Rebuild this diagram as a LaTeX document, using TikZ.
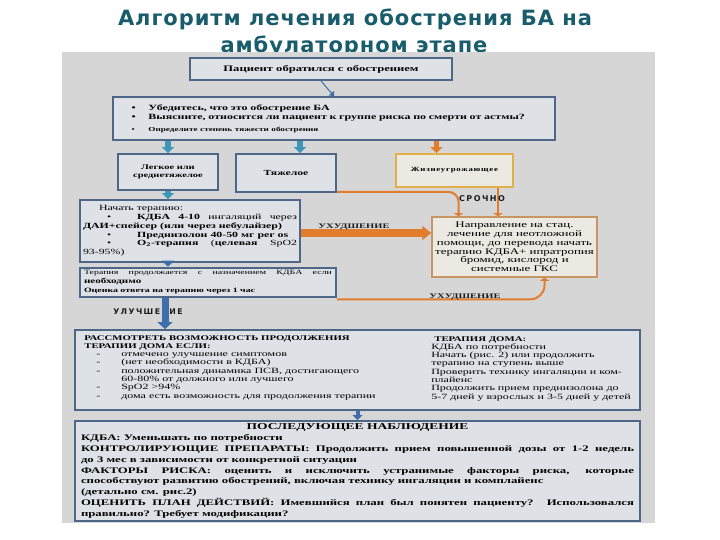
\documentclass[tikz,border=0pt]{standalone}
\usepackage{fontspec}
\setmainfont{Liberation Serif}
\newfontfamily\titlefont[LetterSpace=4.5]{DejaVu Sans}
\newfontfamily\boxfont[FakeStretch=1.5]{Liberation Serif}
\newfontfamily\boxspaced[FakeStretch=1.4,LetterSpace=12]{Liberation Serif}
\newfontfamily\spacedsans[LetterSpace=18]{DejaVu Sans}
\usetikzlibrary{arrows.meta,calc}
\definecolor{titlec}{RGB}{25,92,108}
\definecolor{panelc}{RGB}{214,214,214}
\definecolor{boxfillc}{RGB}{222,226,231}
\definecolor{boxdrawc}{RGB}{78,102,135}
\definecolor{tealc}{RGB}{62,150,185}
\definecolor{bluec}{RGB}{62,110,172}
\definecolor{orangec}{RGB}{226,125,45}
\definecolor{goldc}{RGB}{226,176,72}
\definecolor{tanc}{RGB}{200,150,98}
\definecolor{tanfillc}{RGB}{236,233,226}
\definecolor{labelc}{RGB}{30,30,30}
\tikzset{
  bbox/.style={draw=boxdrawc, line width=1.8pt, fill=boxfillc, inner sep=3pt,
    font=\boxfont\bfseries\fontsize{8.4}{9}\selectfont, align=center},
  titletext/.style={text=titlec, font=\titlefont\bfseries\fontsize{21}{22}\selectfont},
  blockarrow/.style={line width=5.5pt, -{Triangle[width=12pt,length=6pt]}},
  orangeline/.style={draw=orangec, line width=2pt, rounded corners=10pt, -{Triangle[width=9pt,length=3pt]}},
  arrowlabel/.style={text=labelc, font=\boxfont\bfseries\fontsize{7}{8}\selectfont, inner sep=1pt},
}
\begin{document}
\begin{tikzpicture}[x=1pt,y=-1pt]
\useasboundingbox (0,0) rectangle (720,540);
\fill[white] (0,0) rectangle (720,540);
% title
\node[titletext] (t1) at (355,19) {Алгоритм лечения обострения БА на};
\node[titletext] (t2) at (354,46) {амбулаторном этапе};
% panel
\fill[panelc] (62,52) rectangle (655,523);

% boxes
\node[bbox, minimum width=262pt, minimum height=22pt] (p) at (321,69) {Пациент обратился с обострением};

\node[bbox, minimum width=442pt, minimum height=43pt, text width=405pt, align=left, font=\boxfont\bfseries\fontsize{8}{8.8}\selectfont] (b2) at (334,118.5)
 {\makebox[17pt][l]{•}Убедитесь, что это обострение БА\\[0.5pt]
  \makebox[17pt][l]{•}Выясните, относится ли пациент к группе риска по смерти от астмы?\\[3pt]
  {\fontsize{6.1}{7}\selectfont\makebox[17pt][l]{•}Определите степень тяжести обострения}};

\node[bbox, minimum width=100pt, minimum height=36pt, font=\boxfont\bfseries\fontsize{7}{8.2}\selectfont] (legk) at (168,172) {Легкое или\\среднетяжелое};
\node[bbox, minimum width=100pt, minimum height=38pt, font=\boxfont\bfseries\fontsize{7.8}{8.2}\selectfont] (tyazh) at (286,173) {Тяжелое};
\node[bbox, draw=goldc, fill=tanfillc, minimum width=117pt, minimum height=33pt, font=\boxspaced\bfseries\fontsize{6.3}{7}\selectfont] (zhizn) at (454.5,170.5) {Жизнеугрожающее};

\node[bbox, minimum width=220pt, minimum height=62pt, text width=214pt, align=justify, font=\boxfont\fontsize{7.9}{8.7}\selectfont] (nachat) at (190,231)
 {\hspace*{16pt}Начать терапию:\\
  \hspace*{24pt}•\hspace{26pt}\textbf{КДБА 4-10} ингаляций через\linebreak
  \textbf{ДАИ+спейсер (или через небулайзер)}\\
  \hspace*{24pt}•\hspace{26pt}\textbf{Преднизолон 40-50 мг per os}\\
  \hspace*{24pt}•\hspace{26pt}\textbf{O\textsubscript{2}-терапия} (\textbf{целевая} SpO2\linebreak
  93-95\%)};

\node[bbox, draw=tanc, line width=1.5pt, fill=tanfillc, minimum width=165pt, minimum height=60pt, font=\boxfont\fontsize{8.6}{8.8}\selectfont] (naprav) at (514.5,247)
 {Направление на стац.\\ лечение для неотложной\\ помощи, до перевода начать\\ терапию КДБА+ ипратропия\\ бромид, кислород и\\ системные ГКС};

\node[bbox, minimum width=256pt, minimum height=29pt, text width=248pt, align=justify, font=\boxfont\fontsize{6.6}{9}\selectfont] (terap) at (208,282.5)
 {Терапия продолжается с назначением КДБА если\linebreak {\fontsize{7.4}{9}\selectfont\bfseries необходимо}\\
  \textbf{Оценка ответа на терапию через 1 час}};

\node[bbox, minimum width=565pt, minimum height=80pt] (big) at (357.5,370) {};
\node[anchor=north west, inner sep=0pt, align=left, font=\boxfont\fontsize{8}{8.3}\selectfont] (bigL) at ([shift={(10,6)}]big.north west)
 {{\fontsize{7.2}{8.3}\selectfont\bfseries РАССМОТРЕТЬ ВОЗМОЖНОСТЬ ПРОДОЛЖЕНИЯ}\\
  {\fontsize{7.2}{8.3}\selectfont\bfseries ТЕРАПИИ ДОМА ЕСЛИ:}\\
  \hspace*{12pt}\makebox[25pt][l]{-}отмечено улучшение симптомов\\
  \hspace*{12pt}\makebox[25pt][l]{-}(нет необходимости в КДБА)\\
  \hspace*{12pt}\makebox[25pt][l]{-}положительная динамика ПСВ, достигающего\\
  \hspace*{12pt}\makebox[25pt][l]{}60-80\% от должного или лучшего\\
  \hspace*{12pt}\makebox[25pt][l]{-}SpO2 >94\%\\
  \hspace*{12pt}\makebox[25pt][l]{-}дома есть возможность для продолжения терапии};
\node[anchor=north west, inner sep=0pt, align=left, font=\boxfont\fontsize{8}{8.3}\selectfont] (bigR) at ([shift={(357,7)}]big.north west)
 {\hspace*{3pt}{\fontsize{7.2}{8.3}\selectfont\bfseries ТЕРАПИЯ ДОМА:}\\
  КДБА по потребности\\
  Начать (рис. 2) или продолжить\\
  терапию на ступень выше\\
  Проверить технику ингаляции и ком-\\
  плайенс\\
  Продолжить прием преднизолона до\\
  5-7 дней у взрослых и 3-5 дней у детей};

\node[bbox, minimum width=565pt, minimum height=98pt, text width=553pt, align=justify, font=\boxfont\bfseries\fontsize{8.5}{10.8}\selectfont] (last) at (357.5,471)
 {\centerline{\fontsize{9}{10.8}\selectfont ПОСЛЕДУЮЩЕЕ НАБЛЮДЕНИЕ}
  КДБА: Уменьшать по потребности\\
  КОНТРОЛИРУЮЩИЕ ПРЕПАРАТЫ: Продолжить прием повышенной дозы от 1-2 недель\linebreak
  до 3 мес в зависимости от конкретной ситуации\\
  ФАКТОРЫ РИСКА: оценить и исключить устранимые факторы риска, которые\linebreak
  способствуют развитию обострений, включая технику ингаляции и комплайенс\\
  (детально см. рис.2)\\
  ОЦЕНИТЬ ПЛАН ДЕЙСТВИЙ: Имевшийся план был понятен пациенту? Использовался\linebreak
  правильно? Требует модификации?};

% connectors
\draw[bluec, line width=1pt, -{Triangle[width=7pt,length=4pt]}] (p.south) -- (b2.north);
\path ([xshift=14pt]tyazh.north) coordinate (tyin);
\path ([xshift=-18pt]zhizn.north) coordinate (zhin);
\draw[blockarrow, tealc] (legk.north |- b2.south) -- (legk.north);
\draw[blockarrow, tealc] (tyin |- b2.south) -- (tyin);
\draw[blockarrow, orangec] (zhin |- b2.south) -- (zhin);
\draw[blockarrow, tealc] (legk.south) -- (legk.south |- nachat.north);
\draw[blockarrow, bluec] (legk.south |- nachat.south) -- (legk.south |- terap.north);

\draw[blockarrow, orangec, line width=7pt, -{Triangle[width=14pt,length=9pt]}] ([yshift=-2pt]nachat.east) -- ([yshift=-2pt]nachat.east -| naprav.west);
\node[arrowlabel] (uh1) at (354,227) {УХУДШЕНИЕ};

\path ([xshift=-56pt]naprav.north) coordinate (nin1);
\path ([xshift=-16.5pt]naprav.north) coordinate (nin2);
\path ([xshift=30pt]naprav.south) coordinate (nin3);
\draw[orangeline] ([yshift=1pt]tyazh.south east) -| (nin1);
\draw[orangeline] (nin2 |- zhizn.south) -- (nin2);
\draw[orangeline, rounded corners=14pt] ([yshift=-1pt]terap.south east) -| (nin3);
\node[text=labelc, font=\spacedsans\bfseries\fontsize{8}{9}\selectfont] (sr) at (482,199) {СРОЧНО};
\node[arrowlabel] (uh2) at (465,297) {УХУДШЕНИЕ};

\node[text=labelc, font=\spacedsans\bfseries\fontsize{7.8}{8}\selectfont, inner sep=0pt] (ul) at (148,312) {УЛУЧШЕНИЕ};
\draw[blockarrow, bluec, line width=7pt, -{Triangle[width=15pt,length=7pt]}] ([xshift=-3pt]legk.south |- terap.south) -- ([xshift=-3pt]legk.south |- big.north);
\draw[blockarrow, bluec, line width=4pt, -{Triangle[width=10pt,length=5pt]}] (big.south) -- (last.north);
\end{tikzpicture}
\end{document}
